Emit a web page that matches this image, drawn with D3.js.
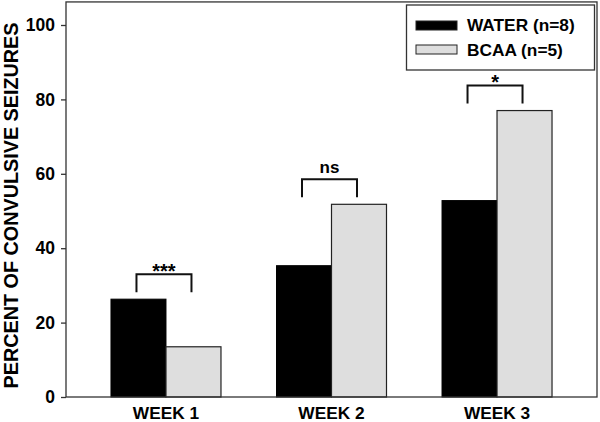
<!DOCTYPE html>
<html>
<head>
<meta charset="utf-8">
<script src="https://cdn.jsdelivr.net/npm/d3@7/dist/d3.min.js"></script>
<style>
  html, body { margin: 0; padding: 0; background: #fff; }
  svg { display: block; }
  text { font-family: "Liberation Sans", Arial, sans-serif; font-weight: bold; fill: #000; }
</style>
</head>
<body>
<svg id="chart" width="600" height="422"></svg>
<script>
const weeks = ["WEEK 1", "WEEK 2", "WEEK 3"];
const water = [26.3, 35.3, 52.8];
const bcaa = [13.5, 51.8, 77.0];
const sigLabels = ["***", "ns", "*"];
const yTicks = [0, 20, 40, 60, 80, 100];
const seriesNames = ["WATER (n=8)", "BCAA (n=5)"];
const seriesColors = ["#000000", "#dedede"];

const svg = d3.select("#chart");
const plotLeft = 66, plotRight = 597, plotBottom = 397;
const y = d3.scaleLinear().domain([0, 100]).range([plotBottom, 25]);
const plotTop = y(106.2);
const x = d3.scalePoint().domain(weeks).range([plotLeft, plotRight]).padding(0.604);
const barW = 55;

// bars
const groups = svg.append("g");
weeks.forEach((w, i) => {
  const cx = x(w);
  groups.append("rect")
    .attr("x", cx - barW).attr("y", y(water[i]))
    .attr("width", barW).attr("height", y(0) - y(water[i]))
    .attr("fill", seriesColors[0]).attr("stroke", "#000").attr("stroke-width", 1);
  groups.append("rect")
    .attr("x", cx).attr("y", y(bcaa[i]))
    .attr("width", barW).attr("height", y(0) - y(bcaa[i]))
    .attr("fill", seriesColors[1]).attr("stroke", "#222").attr("stroke-width", 1.2);

  // significance bracket
  const m = y(Math.max(water[i], bcaa[i]));
  const x1 = cx - barW / 2 - 2, x2 = cx + barW / 2 - 2;
  const yEnd = m - 7, yTop = m - 25;
  svg.append("path")
    .attr("d", `M${x1},${yEnd}V${yTop}H${x2}V${yEnd}`)
    .attr("fill", "none").attr("stroke", "#111").attr("stroke-width", 2);
  const isStar = sigLabels[i].indexOf("*") >= 0;
  svg.append("text")
    .attr("x", (x1 + x2) / 2).attr("y", isStar ? yTop + 3.5 : yTop - 6)
    .attr("text-anchor", "middle")
    .style("font-size", isStar ? "20px" : "17px")
    .text(sigLabels[i]);
});

// frame
svg.append("rect")
  .attr("x", plotLeft).attr("y", plotTop)
  .attr("width", plotRight - plotLeft).attr("height", plotBottom - plotTop)
  .attr("fill", "none").attr("stroke", "#333").attr("stroke-width", 1.3);

// y axis
const yAxis = svg.append("g")
  .attr("transform", `translate(${plotLeft},0)`)
  .call(d3.axisLeft(y).tickValues(yTicks).tickSize(5).tickPadding(6));
yAxis.select(".domain").remove();
yAxis.selectAll(".tick line").attr("stroke", "#333").attr("stroke-width", 1.3);
yAxis.selectAll(".tick text")
  .style("font-size", "17.5px")
  .style("font-family", "'Liberation Sans', Arial, sans-serif")
  .style("font-weight", "bold")
  .attr("fill", "#000");

// x labels
svg.append("g").selectAll("text")
  .data(weeks).join("text")
  .attr("x", d => x(d)).attr("y", 419)
  .attr("text-anchor", "middle")
  .style("font-size", "17.3px")
  .text(d => d);

// y title
svg.append("text")
  .attr("transform", `translate(18,${(23 + 388) / 2}) rotate(-90)`)
  .attr("text-anchor", "middle")
  .style("font-size", "19.8px")
  .text("PERCENT OF CONVULSIVE SEIZURES");

// legend
const lg = svg.append("g");
lg.append("rect")
  .attr("x", 406.5).attr("y", 5).attr("width", 188).attr("height", 65)
  .attr("fill", "#fff").attr("stroke", "#333").attr("stroke-width", 1.3);
const swY = [21, 45];
const txY = [31, 56];
seriesNames.forEach((n, i) => {
  lg.append("rect")
    .attr("x", 416).attr("y", swY[i]).attr("width", 41).attr("height", 9)
    .attr("fill", seriesColors[i]).attr("stroke", "#222").attr("stroke-width", 1);
  lg.append("text")
    .attr("x", 467).attr("y", txY[i])
    .style("font-size", "17.3px")
    .text(n);
});
</script>
</body>
</html>
